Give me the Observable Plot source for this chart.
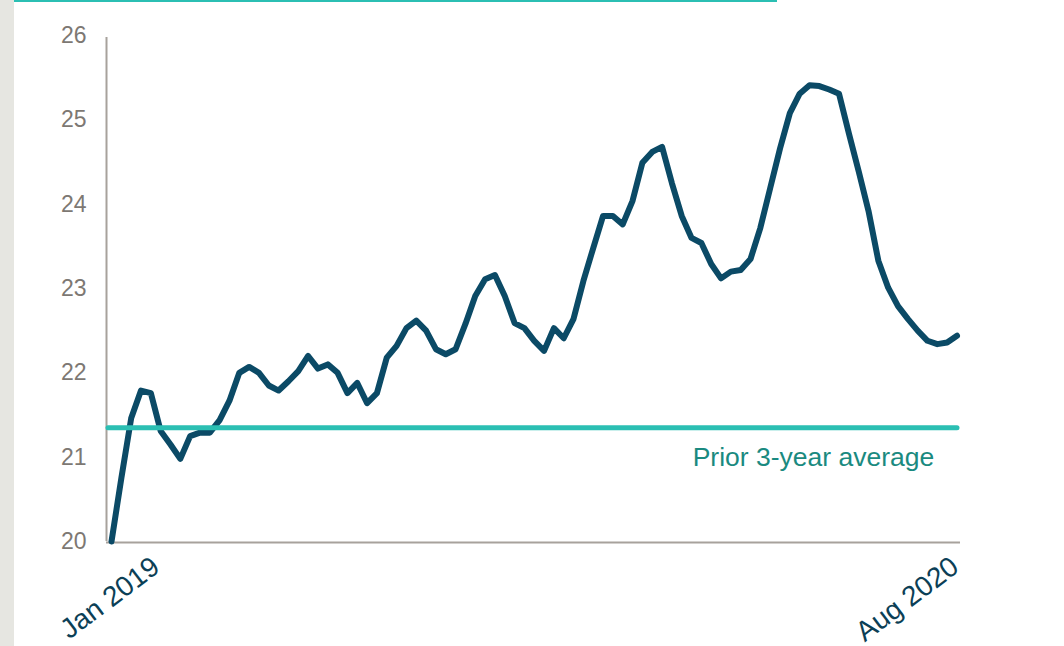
<!DOCTYPE html>
<html>
<head>
<meta charset="utf-8">
<script src="https://cdn.jsdelivr.net/npm/d3@7"></script>
<script src="https://cdn.jsdelivr.net/npm/@observablehq/plot@0.6"></script>
<style>
  html, body { margin: 0; padding: 0; background: #ffffff; }
  #wrap { position: relative; width: 1064px; height: 646px; overflow: hidden; }
  #strip { position: absolute; left: 0; top: 0; width: 14px; height: 646px; background: #e6e6e1; }
  #topline { position: absolute; left: 14px; top: 0; width: 763px; height: 2px; background: #2bbfb3; }
  #chart { position: absolute; left: 0; top: 0; }
</style>
</head>
<body>
<div id="wrap">
  <div id="chart"></div>
  <div id="strip"></div>
  <div id="topline"></div>
</div>
<script>
// Weekly series, Jan 2019 – Aug 2020
const startDate = new Date(Date.UTC(2019, 0, 6));
const values = [
  20.0, 20.75, 21.46, 21.79, 21.76, 21.31, 21.15, 20.98, 21.25, 21.29,
  21.29, 21.44, 21.67, 22.0, 22.07, 22.0, 21.85, 21.79, 21.9, 22.02,
  22.2, 22.05, 22.1, 22.0, 21.76, 21.88, 21.64, 21.76, 22.18, 22.32,
  22.53, 22.62, 22.5, 22.28, 22.22, 22.28, 22.58, 22.91, 23.11, 23.16,
  22.91, 22.59, 22.53, 22.38, 22.26, 22.53, 22.41, 22.64, 23.09, 23.48,
  23.86, 23.86, 23.76, 24.04, 24.49, 24.62, 24.68, 24.25, 23.86, 23.6,
  23.54, 23.29, 23.12, 23.2, 23.22, 23.35, 23.72, 24.19, 24.66, 25.08,
  25.31, 25.41, 25.4, 25.36, 25.31, 24.84, 24.39, 23.92, 23.33, 23.01,
  22.79, 22.64, 22.5, 22.38, 22.34, 22.36, 22.44
];
const priorAverage = 21.35;
const averageLabel = "Prior 3-year average";
const yTicks = [20, 21, 22, 23, 24, 25, 26];
const xTickLabels = ["Jan 2019", "Aug 2020"];
const xTickDates = [new Date(Date.UTC(2019, 1, 2)), new Date(Date.UTC(2020, 7, 24))];

const dates = values.map((_, i) => d3.utcWeek.offset(startDate, i));
const data = values.map((v, i) => ({date: dates[i], value: v}));
const DAY = 24 * 3600 * 1000;
const xMin = new Date(+dates[0] - 3.56 * DAY);
const xMax = new Date(+dates[dates.length - 1] + 2.5 * DAY);

const ticksData = xTickLabels.map((t, i) => ({label: t, date: xTickDates[i]}));

const chart = Plot.plot({
  width: 1064,
  height: 646,
  marginLeft: 106,
  marginRight: 104,
  marginTop: 35,
  marginBottom: 105,
  style: {background: "transparent", fontFamily: "'Liberation Sans', Arial, sans-serif", fontSize: "23px", overflow: "visible"},
  x: {type: "utc", domain: [xMin, xMax], axis: null},
  y: {domain: [20, 26], axis: null},
  marks: [
    Plot.axisY({ticks: yTicks, tickFormat: d => String(d), tickSize: 0, tickPadding: 20, color: "#7d7873", fontSize: 23, label: null}),
    Plot.ruleX([xMin], {stroke: "#a7a29c", strokeWidth: 2, y1: 20, y2: 26, insetBottom: -2}),
    Plot.ruleY([20], {stroke: "#a7a29c", strokeWidth: 2, dy: 1}),
    Plot.line(data, {x: "date", y: "value", stroke: "#0b4a66", strokeWidth: 6, strokeLinejoin: "round", strokeLinecap: "round"}),
    Plot.ruleY([priorAverage], {stroke: "#2bbfb3", strokeWidth: 5, strokeLinecap: "round", insetLeft: 2, insetRight: 3}),
    Plot.text([averageLabel], {x: () => new Date(+dates[0] + 71.4 * 7 * DAY), y: () => 21.0, text: d => d, fill: "#1a8a80", fontSize: 26.5, textAnchor: "middle"}),
    Plot.text(ticksData, {x: "date", y: () => 20, text: "label", rotate: -37, textAnchor: "end", lineAnchor: "top", dy: 13, fontSize: 28, fill: "#0c3f56"})
  ]
});
document.getElementById("chart").appendChild(chart);
</script>
</body>
</html>
